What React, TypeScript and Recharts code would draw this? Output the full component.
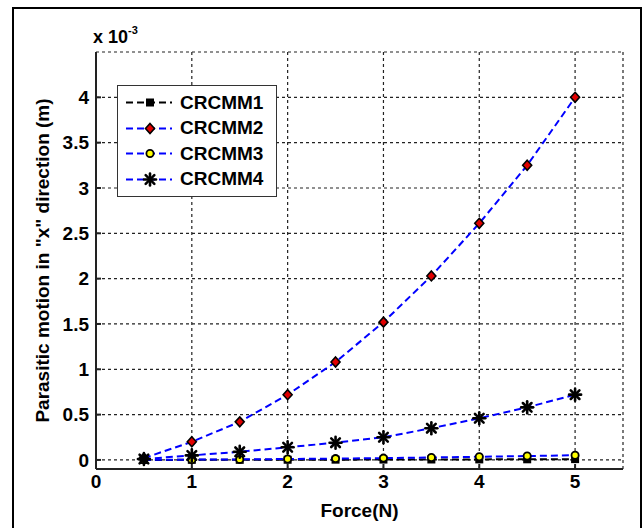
import React from 'react'
import { LineChart, Line, XAxis, YAxis, CartesianGrid } from 'recharts'

// force steps (N)
const force = [0.5, 1, 1.5, 2, 2.5, 3, 3.5, 4, 4.5, 5]
// parasitic motion, in units of 1e-3 m
const crcmm1 = [0, 0.001, 0.001, 0.002, 0.003, 0.004, 0.005, 0.006, 0.007, 0.009]
const crcmm2 = [0.02, 0.2, 0.42, 0.72, 1.08, 1.52, 2.03, 2.61, 3.25, 4.0]
const crcmm3 = [0.001, 0.003, 0.006, 0.01, 0.015, 0.02, 0.027, 0.035, 0.043, 0.052]
const crcmm4 = [0.01, 0.05, 0.09, 0.14, 0.19, 0.25, 0.35, 0.46, 0.58, 0.72]

const xTicks = [0, 1, 2, 3, 4, 5]
const yTicks = [0, 0.5, 1, 1.5, 2, 2.5, 3, 3.5, 4]

const data = force.map((f, i) => ({
  force: f,
  CRCMM1: crcmm1[i],
  CRCMM2: crcmm2[i],
  CRCMM3: crcmm3[i],
  CRCMM4: crcmm4[i],
}))

const FONT = '"Liberation Sans", Arial, sans-serif'
const BLUE = '#0000ff'

type MarkerKind = 'square' | 'diamond' | 'circle' | 'star'

const series: { key: string; color: string; marker: MarkerKind }[] = [
  { key: 'CRCMM1', color: '#000000', marker: 'square' },
  { key: 'CRCMM2', color: BLUE, marker: 'diamond' },
  { key: 'CRCMM3', color: BLUE, marker: 'circle' },
  { key: 'CRCMM4', color: BLUE, marker: 'star' },
]

function Marker({ kind, cx, cy }: { kind: MarkerKind; cx: number; cy: number }) {
  if (kind === 'square') {
    return <rect x={cx - 4} y={cy - 4} width={8} height={8} fill="#000" />
  }
  if (kind === 'diamond') {
    return (
      <polygon
        points={`${cx},${cy - 5} ${cx + 4.5},${cy} ${cx},${cy + 5} ${cx - 4.5},${cy}`}
        fill="#e00000"
        stroke="#000"
        strokeWidth={1.6}
      />
    )
  }
  if (kind === 'circle') {
    return <circle cx={cx} cy={cy} r={3.6} fill="#ffff00" stroke="#000" strokeWidth={1.8} />
  }
  const r = 6
  const d = r * 0.72
  return (
    <g stroke="#000" strokeWidth={2.6} strokeLinecap="round">
      <line x1={cx - r} y1={cy} x2={cx + r} y2={cy} />
      <line x1={cx} y1={cy - r} x2={cx} y2={cy + r} />
      <line x1={cx - d} y1={cy - d} x2={cx + d} y2={cy + d} />
      <line x1={cx - d} y1={cy + d} x2={cx + d} y2={cy - d} />
    </g>
  )
}

function LegendBox() {
  return (
    <div
      style={{
        position: 'absolute',
        left: 117,
        top: 85,
        width: 158,
        height: 106,
        border: '1.5px solid #333',
        background: '#fff',
        paddingTop: 4,
        fontFamily: FONT,
      }}
    >
      {series.map((s) => (
        <div key={s.key} style={{ height: 25.5, display: 'flex', alignItems: 'center' }}>
          <svg width={62} height={25} style={{ display: 'block' }}>
            <line x1={8} y1={12.5} x2={54} y2={12.5} stroke={s.color} strokeWidth={2} strokeDasharray="7 4" />
            <Marker kind={s.marker} cx={32} cy={12.5} />
          </svg>
          <span style={{ fontSize: 19, fontWeight: 'bold', color: '#000' }}>{s.key}</span>
        </div>
      ))}
    </div>
  )
}

export default function App() {
  const tickStyle = { fontSize: 19, fontWeight: 'bold', fill: '#000', fontFamily: FONT }
  return (
    <div style={{ position: 'absolute', left: 0, top: 0, width: 643, height: 528, overflow: 'hidden', background: '#fff' }}>
      <div
        style={{
          position: 'absolute',
          left: 12,
          top: 7,
          width: 626,
          height: 530,
          border: '2.5px solid #000',
        }}
      />
      <div
        style={{
          position: 'absolute',
          left: 93,
          top: 26,
          fontFamily: FONT,
          fontWeight: 'bold',
          fontSize: 18,
          color: '#000',
        }}
      >
        x 10<sup style={{ fontSize: 11, position: 'relative', top: -2 }}>-3</sup>
      </div>
      <div style={{ position: 'absolute', left: 0, top: 0 }}>
        <LineChart width={643} height={528} data={data} margin={{ top: 52, right: 20, bottom: 29, left: 36 }}>
          <CartesianGrid stroke="#222" strokeWidth={1.2} strokeDasharray="3 3" />
          <XAxis
            dataKey="force"
            type="number"
            domain={[0, 5.5]}
            ticks={xTicks}
            allowDataOverflow
            height={30}
            stroke="#222"
            strokeWidth={2}
            tickSize={-5}
            tickMargin={11}
            tick={tickStyle}
            label={{
              content: ({ viewBox }: any) => (
                <text
                  x={viewBox.x + viewBox.width / 2}
                  y={517}
                  textAnchor="middle"
                  style={{ fontSize: 19, fontWeight: 'bold', fontFamily: FONT }}
                  fill="#000"
                >
                  Force(N)
                </text>
              ),
            }}
          />
          <XAxis
            xAxisId="top"
            orientation="top"
            dataKey="force"
            type="number"
            domain={[0, 5.5]}
            ticks={xTicks}
            allowDataOverflow
            height={0}
            stroke="#222"
            strokeWidth={2}
            tickSize={-5}
            tick={false}
          />
          <YAxis
            type="number"
            domain={[-0.1, 4.5]}
            ticks={yTicks}
            allowDataOverflow
            width={60}
            stroke="#222"
            strokeWidth={2}
            tickSize={-5}
            tickMargin={12}
            tick={tickStyle}
            label={{
              content: ({ viewBox }: any) => (
                <text
                  x={42}
                  y={viewBox.y + viewBox.height / 2}
                  textAnchor="middle"
                  dominantBaseline="central"
                  transform={`rotate(-90 42 ${viewBox.y + viewBox.height / 2})`}
                  style={{ fontSize: 19, fontWeight: 'bold', fontFamily: FONT }}
                  fill="#000"
                >
                  Parasitic motion in "x" direction (m)
                </text>
              ),
            }}
          />
          <YAxis
            yAxisId="right"
            orientation="right"
            type="number"
            domain={[-0.1, 4.5]}
            ticks={yTicks}
            allowDataOverflow
            width={0}
            stroke="#222"
            strokeWidth={2}
            tickSize={-5}
            tick={false}
          />
          {series.map((s) => (
            <Line
              key={s.key}
              dataKey={s.key}
              type="linear"
              stroke={s.color}
              strokeWidth={2}
              strokeDasharray="7 4"
              isAnimationActive={false}
              dot={(p: any) => <Marker key={`${s.key}-${p.index}`} kind={s.marker} cx={p.cx} cy={p.cy} />}
            />
          ))}
        </LineChart>
      </div>
      <LegendBox />
    </div>
  )
}
